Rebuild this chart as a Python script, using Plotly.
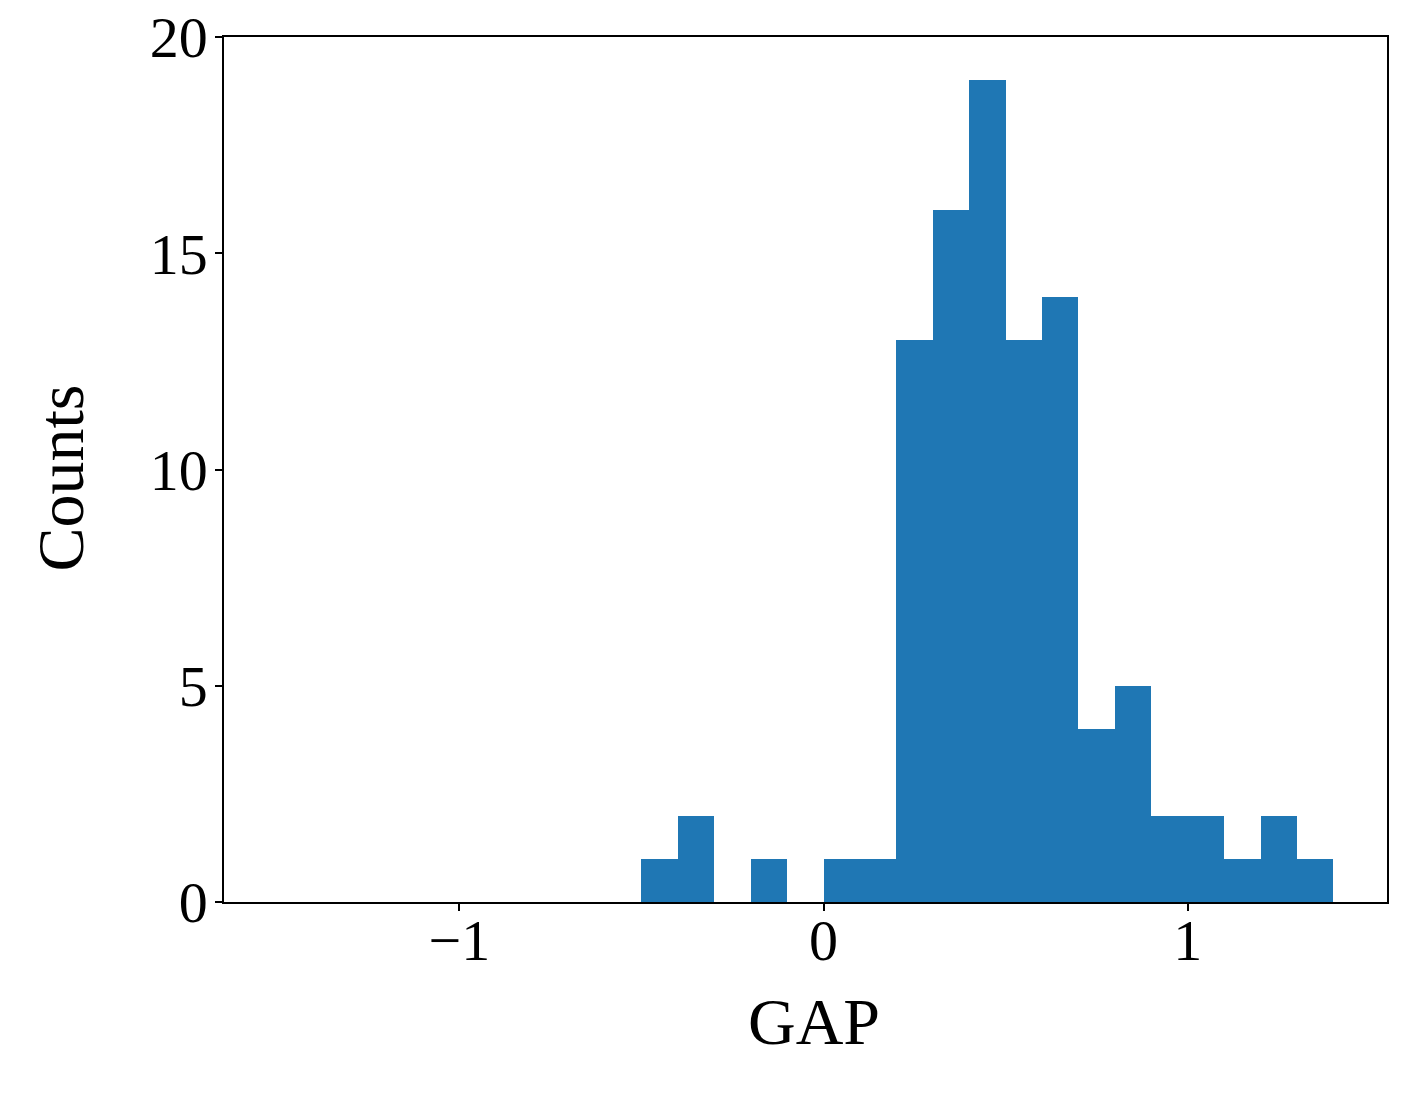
import plotly.graph_objects as go

# histogram of GAP, bin width 0.1
bin_left = [-0.5, -0.4, -0.3, -0.2, -0.1, 0.0, 0.1, 0.2, 0.3, 0.4,
            0.5, 0.6, 0.7, 0.8, 0.9, 1.0, 1.1, 1.2, 1.3]
counts = [1, 2, 0, 1, 0, 1, 1, 13, 16, 19,
          13, 14, 4, 5, 2, 2, 1, 2, 1]
bin_width = 0.1

x_ticks = [-1, 0, 1]
y_ticks = [0, 5, 10, 15, 20]

font = "Liberation Serif, Times New Roman, serif"

fig = go.Figure(go.Bar(
    x=[b + bin_width / 2 for b in bin_left],
    y=counts,
    width=bin_width,
    marker=dict(color='#1f77b4', line=dict(width=0)),
))

axis_common = dict(
    showline=True, linecolor='black', linewidth=1.5, mirror=True,
    ticks='outside', ticklen=7, tickwidth=1.5, tickcolor='black',
    showgrid=False, zeroline=False, automargin=False,
    ticklabeloverflow='allow',
    tickfont=dict(size=58, color='black', family=font),
)

title_font = dict(size=66, color='black', family=font)

fig.update_layout(
    width=1401, height=1099,
    paper_bgcolor='white', plot_bgcolor='white',
    margin=dict(l=224, r=14, t=37, b=197),
    bargap=0, showlegend=False,
    font=dict(family=font, color='black'),
    xaxis=dict(range=[-1.646, 1.547], tickvals=x_ticks,
               ticktext=['\u22121', '0', '1'], ticklabelstandoff=-20,
               **axis_common),
    yaxis=dict(range=[0, 20], tickvals=y_ticks, ticklabelstandoff=-4,
               **axis_common),
)

# axis titles placed as annotations so their position is exact
fig.add_annotation(text='GAP', xref='paper', yref='paper', x=0.5077, y=0,
                   xanchor='center', yanchor='middle', yshift=-119,
                   showarrow=False, font=title_font)
fig.add_annotation(text='Counts', xref='paper', yref='paper', x=0, y=0.4896,
                   xanchor='center', yanchor='middle', xshift=-164,
                   textangle=-90, showarrow=False, font=title_font)

# drop the default page margin so the figure fills the window exactly
fig.write_html("out.html", config={'displayModeBar': False},
               post_script="document.body.style.margin='0';")
